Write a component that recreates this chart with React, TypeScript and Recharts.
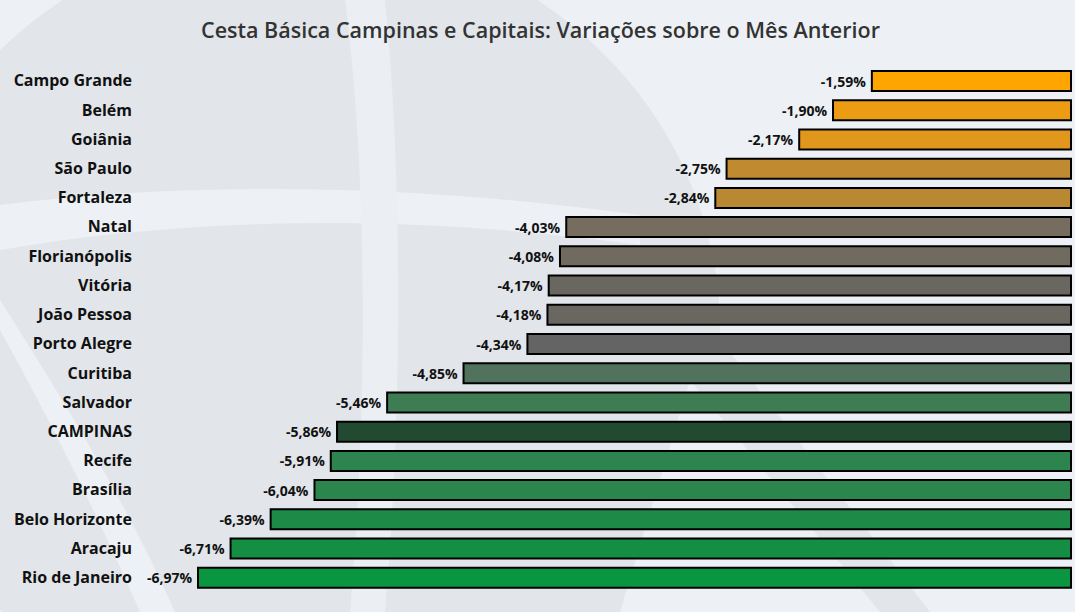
import { Bar, BarChart, Cell, LabelList, XAxis, YAxis } from "recharts";

const cities = [
  "Campo Grande",
  "Belém",
  "Goiânia",
  "São Paulo",
  "Fortaleza",
  "Natal",
  "Florianópolis",
  "Vitória",
  "João Pessoa",
  "Porto Alegre",
  "Curitiba",
  "Salvador",
  "CAMPINAS",
  "Recife",
  "Brasília",
  "Belo Horizonte",
  "Aracaju",
  "Rio de Janeiro",
];

const variations = [
  -1.59, -1.9, -2.17, -2.75, -2.84, -4.03, -4.08, -4.17, -4.18, -4.34, -4.85,
  -5.46, -5.86, -5.91, -6.04, -6.39, -6.71, -6.97,
];

const barColors = [
  "#FFA500",
  "#EC9C12",
  "#E1961C",
  "#C08A30",
  "#B98832",
  "#766D5E",
  "#716A5E",
  "#6A6660",
  "#6A6660",
  "#646464",
  "#51735D",
  "#3E7D54",
  "#214A30",
  "#2E844F",
  "#2B864D",
  "#1E8A47",
  "#148E43",
  "#0A9540",
];

const data = cities.map((city, i) => ({ city, value: variations[i] }));

const fmt = (v: number) => v.toFixed(2).replace(".", ",") + "%";

const font = "'Open Sans', sans-serif";

// value label drawn to the left of the bar's open end
const ValueLabel = (props: any) => {
  const { x, y, width, height, value } = props;
  const left = Math.min(Number(x), Number(x) + Number(width));
  return (
    <text
      x={left - 6}
      y={Number(y) + Number(height) / 2}
      textAnchor="end"
      dominantBaseline="central"
      fill="#111111"
      fontFamily={font}
      fontWeight={700}
      fontSize={14}
    >
      {fmt(Number(value))}
    </text>
  );
};

export default function App() {
  return (
    <div
      style={{
        position: "absolute",
        left: 0,
        top: 0,
        width: 1081,
        height: 616,
        background: "#ffffff",
      }}
    >
      {/* background with a faint globe watermark */}
      <svg
        width={1075}
        height={612}
        style={{ position: "absolute", left: 0, top: 0 }}
      >
        <rect width={1075} height={612} fill="#EDF1F5" />
        <ellipse cx={300} cy={330} rx={420} ry={400} fill="#E2E6EA" />
        <path
          d="M0 205 C200 180 420 185 640 215 L640 245 C420 215 200 215 0 250 Z"
          fill="#EDF1F5"
        />
        <path
          d="M345 0 C365 150 370 380 350 612 L385 612 C405 380 400 150 385 0 Z"
          fill="#EBEFF3"
        />
        <path
          d="M0 330 C50 420 100 520 140 612 L175 612 C130 510 70 410 0 300 Z"
          fill="#EDF1F5"
        />
        <path d="M590 612 L690 300 L930 612 Z" fill="#E2E6EA" />
        <path d="M620 612 L690 380 L880 612 Z" fill="#EDF1F5" />
      </svg>
      <div
        style={{
          position: "absolute",
          left: 0,
          top: 15,
          width: 1081,
          textAlign: "center",
          fontFamily: font,
          fontWeight: 600,
          fontSize: 21.5,
          color: "#333333",
        }}
      >
        Cesta Básica Campinas e Capitais: Variações sobre o Mês Anterior
      </div>
      <BarChart
        width={1081}
        height={616}
        data={data}
        layout="vertical"
        margin={{ top: 66, right: 10, bottom: 24, left: 0 }}
        style={{ position: "absolute", left: 0, top: 0 }}
      >
        <XAxis type="number" domain={[-6.97, 0]} hide />
        <YAxis
          type="category"
          dataKey="city"
          width={198}
          axisLine={false}
          tickLine={false}
          tickMargin={60}
          interval={0}
          tick={{
            fill: "#111111",
            fontFamily: font,
            fontWeight: 700,
            fontSize: 16,
          }}
        />
        <Bar
          dataKey="value"
          barSize={20}
          stroke="#000000"
          strokeWidth={2}
          isAnimationActive={false}
        >
          {data.map((d, i) => (
            <Cell key={d.city} fill={barColors[i]} />
          ))}
          <LabelList dataKey="value" content={ValueLabel} />
        </Bar>
      </BarChart>
    </div>
  );
}
